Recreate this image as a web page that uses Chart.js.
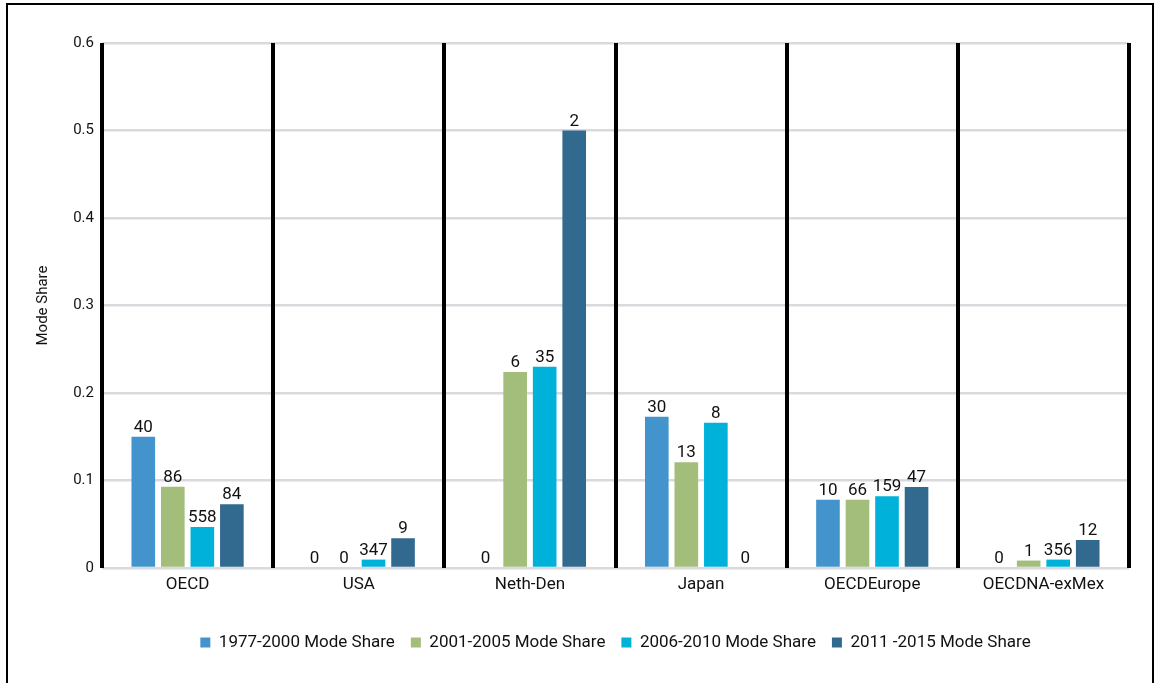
<!DOCTYPE html>
<html>
<head>
<meta charset="utf-8">
<title>Mode Share</title>
<script src="https://cdn.jsdelivr.net/npm/chart.js@4.4.0/dist/chart.umd.min.js"></script>
<style>
    html, body { margin: 0; padding: 0; background: #fff; overflow: hidden; }
    #wrap { position: absolute; left: 0; top: 0; width: 1157px; height: 683px; }
    #frame { position: absolute; left: 6px; top: 3px; width: 1144px; height: 720px; border: 2px solid #000; border-bottom: none; pointer-events: none; }
</style>
</head>
<body>
<div id="wrap"><canvas id="modeChart"></canvas></div>
<div id="frame"></div>
<script>
const regions = ['OECD', 'USA', 'Neth-Den', 'Japan', 'OECDEurope', 'OECDNA-exMex'];
const periods = ['1977-2000 Mode Share', '2001-2005 Mode Share', '2006-2010 Mode Share', '2011 -2015 Mode Share'];

// mode share per period
const share1977 = [0.150, 0, 0, 0.173, 0.078, 0];
const share2001 = [0.093, 0, 0.224, 0.121, 0.078, 0.0085];
const share2006 = [0.047, 0.0096, 0.230, 0.166, 0.082, 0.0096];
const share2011 = [0.073, 0.034, 0.500, 0, 0.0925, 0.032];

// numbers printed above the bars
const count1977 = [40, 0, 0, 30, 10, 0];
const count2001 = [86, 0, 6, 13, 66, 1];
const count2006 = [558, 347, 35, 8, 159, 356];
const count2011 = [84, 9, 2, 0, 47, 12];

const yTicks = [0, 0.1, 0.2, 0.3, 0.4, 0.5, 0.6];

const colors = ['#4394cc', '#a3bd7b', '#00b1d9', '#32698f'];
const shares = [share1977, share2001, share2006, share2011];
const counts = [count1977, count2001, count2006, count2011];

const FONT = 'Roboto, "Open Sans", sans-serif';
const TEXT = '#111';

// draws the counts above each bar
const countLabels = {
    id: 'countLabels',
    afterDatasetsDraw(chart) {
        const ctx = chart.ctx;
        ctx.save();
        ctx.font = '17px ' + FONT;
        ctx.fillStyle = TEXT;
        ctx.textAlign = 'center';
        ctx.textBaseline = 'alphabetic';
        chart.data.datasets.forEach((ds, i) => {
            const meta = chart.getDatasetMeta(i);
            meta.data.forEach((bar, j) => {
                ctx.fillText(String(counts[i][j]), bar.x, bar.y - 5);
            });
        });
        ctx.restore();
    }
};

// thick black value axis line on the left of the plot
const leftAxisLine = {
    id: 'leftAxisLine',
    afterDraw(chart) {
        const { ctx, chartArea } = chart;
        ctx.save();
        ctx.strokeStyle = '#000';
        ctx.lineWidth = 4;
        ctx.beginPath();
        ctx.moveTo(chartArea.left, chartArea.top);
        ctx.lineTo(chartArea.left, chartArea.bottom);
        ctx.stroke();
        ctx.restore();
    }
};

const ctx = document.getElementById('modeChart').getContext('2d');
new Chart(ctx, {
    type: 'bar',
    data: {
        labels: regions,
        datasets: periods.map((p, i) => ({
            label: p,
            data: shares[i],
            backgroundColor: colors[i],
            borderWidth: 0,
            barPercentage: 0.8,
            categoryPercentage: 0.69
        }))
    },
    options: {
        responsive: true,
        maintainAspectRatio: false,
        animation: false,
        layout: { padding: { left: 0, right: 28, top: 43, bottom: 22 } },
        plugins: {
            legend: {
                position: 'bottom',
                fullSize: false,
                labels: {
                    boxWidth: 10,
                    boxHeight: 10,
                    padding: 16,
                    color: TEXT,
                    font: { family: FONT, size: 17 }
                }
            },
            tooltip: { enabled: false }
        },
        scales: {
            x: {
                grid: { offset: true, color: '#000', lineWidth: 4, drawTicks: false, z: 1 },
                border: { display: false },
                ticks: { padding: 7, color: TEXT, font: { family: FONT, size: 17 } },
                afterFit: s => { s.height = 50; }
            },
            y: {
                min: 0,
                max: 0.6,
                afterBuildTicks: s => { s.ticks = yTicks.map(v => ({ value: v })); },
                grid: { color: '#d9d9de', lineWidth: 2.5, drawTicks: false },
                border: { display: false },
                ticks: {
                    padding: 8,
                    color: TEXT,
                    font: { family: FONT, size: 15 },
                    callback: v => v === 0 ? '0' : v.toFixed(1)
                },
                title: {
                    display: true,
                    text: 'Mode Share',
                    color: TEXT,
                    font: { family: FONT, size: 15 },
                    padding: { top: 34, bottom: 0 }
                },
                afterFit: s => { s.width = 102; }
            }
        }
    },
    plugins: [countLabels, leftAxisLine]
});
</script>
</body>
</html>
